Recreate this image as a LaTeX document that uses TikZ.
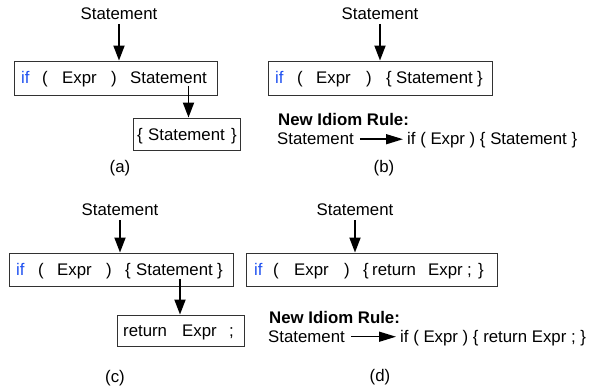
\documentclass[tikz,border=0pt]{standalone}
\usepackage{fontspec}
\setmainfont{Liberation Sans}
\usetikzlibrary{arrows.meta,calc}
\definecolor{kwblue}{RGB}{30,80,240}
\definecolor{boxline}{RGB}{50,50,50}
\tikzset{
  x=1pt, y=-1pt,
  tok/.style={inner sep=0pt, anchor=base west, font=\fontsize{16.8}{20}\selectfont},
  kw/.style={tok, text=kwblue},
  lbl/.style={inner sep=0pt, anchor=base, font=\fontsize{16.8}{20}\selectfont},
  captext/.style={inner sep=0pt, anchor=center, font=\fontsize{16.8}{20}\selectfont},
  rulehead/.style={inner sep=0pt, anchor=base west, font=\fontsize{16.8}{20}\selectfont\bfseries},
  box/.style={draw=boxline, line width=0.9pt, inner sep=0pt},
  bigarrow/.style={line width=1.8pt, -{Triangle[length=15pt,width=11pt]}},
  rulearrow/.style={line width=1.5pt, -{Triangle[length=17pt,width=10pt]}, shorten <=6pt, shorten >=4pt},
}
\begin{document}
\begin{tikzpicture}
\useasboundingbox (0,0) rectangle (590,390);

% ---------------- (a) ----------------
\node[lbl] (a-top) at (119,19.5) {Statement};
\node[box, minimum width=203pt, minimum height=34pt] (a-box) at (115.5,78) {};
\node[kw]  (a-if) at (21,84) {if};
\node[tok] (a-lp) at (42,84) {(};
\node[tok] (a-ex) at (62,84) {Expr};
\node[tok] (a-rp) at (111,84) {)};
\node[tok] (a-st) at (130,84) {Statement};
\node[box, minimum width=107pt, minimum height=32pt] (a-box2) at (186.5,134) {};
\node[tok] (a-lb) at (137,141) {\{};
\node[tok] (a-st2) at (148,141) {Statement};
\node[tok] (a-rb) at (231,141) {\}};
\coordinate (a-from) at (188.5,86);
\draw[bigarrow] ($(a-top.base)+(0,4.5)$) -- (a-top.base |- a-box.north);
\draw[bigarrow] (a-from) -- (a-from |- a-box2.north);
\node[captext] (a-cap) at (120,168) {(a)};

% ---------------- (b) ----------------
\node[lbl] (b-top) at (380,19.5) {Statement};
\node[box, minimum width=224pt, minimum height=34pt] (b-box) at (380,78) {};
\node[kw]  (b-if) at (275,84) {if};
\node[tok] (b-lp) at (297,84) {(};
\node[tok] (b-ex) at (316,84) {Expr};
\node[tok] (b-rp) at (366,84) {)};
\node[tok] (b-lb) at (386,84) {\{};
\node[tok] (b-st) at (396,84) {Statement};
\node[tok] (b-rb) at (477,84) {\}};
\draw[bigarrow] ($(b-top.base)+(0,4.5)$) -- (b-top.base |- b-box.north);
\node[rulehead] (b-new) at (278,126) {New Idiom Rule:};
\node[tok] (b-rl) at (277,145) {Statement};
\node[tok] (b-rr) at (407,145) {if ( Expr ) \{ Statement \}};
\draw[rulearrow] (b-rl.east) -- (b-rl.east -| b-rr.west);
\node[captext] (b-cap) at (384,168) {(b)};

% ---------------- (c) ----------------
\node[lbl] (c-top) at (120,216) {Statement};
\node[box, minimum width=224pt, minimum height=33pt] (c-box) at (121,269.5) {};
\node[kw]  (c-if) at (16,276) {if};
\node[tok] (c-lp) at (38,276) {(};
\node[tok] (c-ex) at (57,276) {Expr};
\node[tok] (c-rp) at (106,276) {)};
\node[tok] (c-lb) at (125,276) {\{};
\node[tok] (c-st) at (136,276) {Statement};
\node[tok] (c-rb) at (217,276) {\}};
\node[box, minimum width=127pt, minimum height=31pt] (c-box2) at (180.5,330.5) {};
\node[tok] (c-ret) at (123,337) {return};
\node[tok] (c-ex2) at (182,337) {Expr};
\node[tok] (c-sc) at (229,337) {;};
\coordinate (c-from) at (180,279);
\draw[bigarrow] ($(c-top.base)+(0,4.5)$) -- (c-top.base |- c-box.north);
\draw[bigarrow] (c-from) -- (c-from |- c-box2.north);
\node[captext] (c-cap) at (115,378) {(c)};

% ---------------- (d) ----------------
\node[lbl] (d-top) at (355,216) {Statement};
\node[box, minimum width=251pt, minimum height=33pt] (d-box) at (371.5,269.5) {};
\node[kw]  (d-if) at (254,276) {if};
\node[tok] (d-lp) at (273,276) {(};
\node[tok] (d-ex) at (294,276) {Expr};
\node[tok] (d-rp) at (344,276) {)};
\node[tok] (d-lb) at (363,276) {\{};
\node[tok] (d-ret) at (372,276) {return};
\node[tok] (d-ex2) at (428,276) {Expr};
\node[tok] (d-sc) at (467,276) {;};
\node[tok] (d-rb) at (478,276) {\}};
\draw[bigarrow] ($(d-top.base)+(0,4.5)$) -- (d-top.base |- d-box.north);
\node[rulehead] (d-new) at (269,323.5) {New Idiom Rule:};
\node[tok] (d-rl) at (268,342.5) {Statement};
\node[tok] (d-rr) at (400,342.5) {if ( Expr ) \{ return Expr ; \}};
\draw[rulearrow] (d-rl.east) -- (d-rl.east -| d-rr.west);
\node[captext] (d-cap) at (380,377) {(d)};
\end{tikzpicture}
\end{document}
